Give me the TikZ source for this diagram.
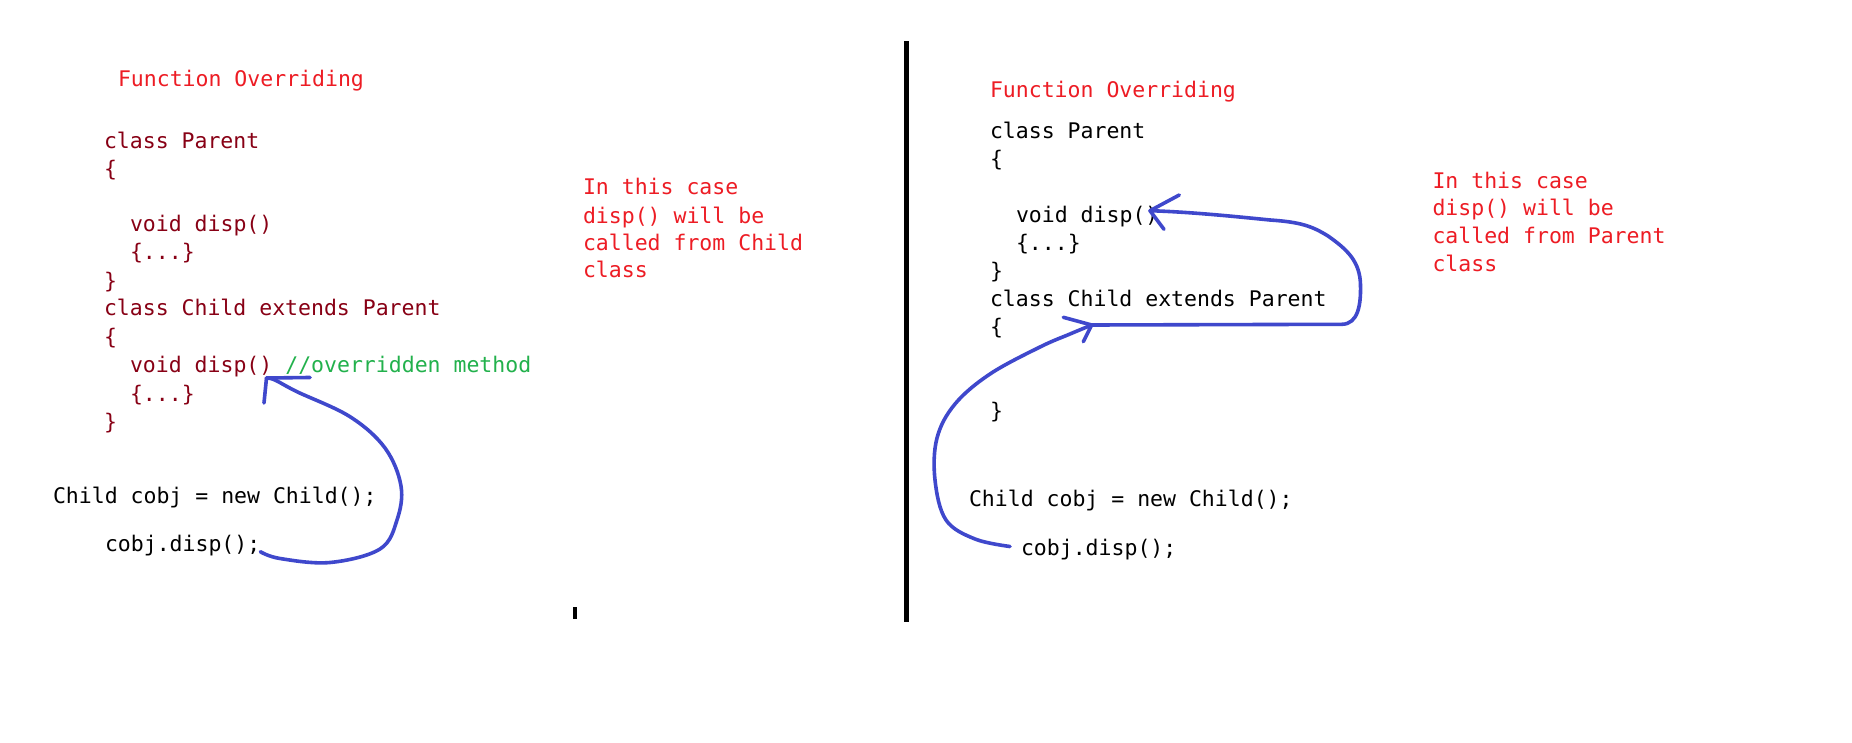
\documentclass[tikz,border=0pt]{standalone}
\usepackage{fontspec}
\newfontfamily\codefont{DejaVu Sans Mono}
\definecolor{pred}{RGB}{237,28,36}
\definecolor{pdarkred}{RGB}{136,0,21}
\definecolor{pgreen}{RGB}{34,177,76}
\definecolor{pblue}{RGB}{63,72,204}
\begin{document}
\begin{tikzpicture}[x=1pt,y=-1pt,
  txt/.style={anchor=base west, inner sep=0pt, outer sep=0pt, font=\codefont\fontsize{21.5}{28}\selectfont},
  codeL/.style={txt, text=pdarkred},
  codeR/.style={txt, text=black},
  note/.style={txt, text=pred},
  stroke/.style={draw=pblue, line width=3.6pt, line cap=round, line join=round},
  bar/.style={fill=black, draw=none}
]
\useasboundingbox[fill=white] (0,0) rectangle (1852,743);

% ---------- left panel ----------
\node[note]  (titleL) at (118,86.7) {Function Overriding};
\node[codeL] (pL1) at (104,148.3) {class Parent};
\node[codeL] (pL2) at (104,176.3) {\{};
\node[codeL] (pL3) at (130,232) {void disp()};
\node[codeL] (pL4) at (130,260) {\{...\}};
\node[codeL] (pL5) at (104,288) {\}};
\node[codeL] (cL1) at (104,316) {class Child extends Parent};
\node[codeL] (cL2) at (104,344) {\{};
\node[codeL] (cL3) at (130,372.5) {void disp() \textcolor{pgreen}{//overridden method}};
\node[codeL] (cL4) at (130,401) {\{...\}};
\node[codeL] (cL5) at (104,429) {\}};
\node[codeR] (objL) at (53,503.3) {Child cobj = new Child();};
\node[codeR] (callL) at (105,551.7) {cobj.disp();};

\node[note] (nL1) at (583,195) {In this case};
\node[note] (nL2) at (583,223.3) {disp() will be};
\node[note] (nL3) at (583,250.7) {called from Child};
\node[note] (nL4) at (583,278) {class};

% ---------- right panel ----------
\node[note]  (titleR) at (990,97.3) {Function Overriding};
\node[codeR] (pR1) at (990,138.3) {class Parent};
\node[codeR] (pR2) at (990,166.3) {\{};
\node[codeR] (pR3) at (1016,222.3) {void disp()};
\node[codeR] (pR4) at (1016,250.3) {\{...\}};
\node[codeR] (pR5) at (990,278.3) {\}};
\node[codeR] (cR1) at (990,306.3) {class Child extends Parent};
\node[codeR] (cR2) at (990,334.3) {\{};
\node[codeR] (cR3) at (990,418.3) {\}};
\node[codeR] (objR) at (969,506.7) {Child cobj = new Child();};
\node[codeR] (callR) at (1021,555) {cobj.disp();};

\node[note] (nR1) at (1432.5,188.3) {In this case};
\node[note] (nR2) at (1432.5,216) {disp() will be};
\node[note] (nR3) at (1432.5,243.3) {called from Parent};
\node[note] (nR4) at (1432.5,271.7) {class};

% ---------- divider and mark ----------
\fill[bar] (904,41) rectangle (909,622);
\fill[bar] (572.5,607) rectangle (576.5,619);

% ---------- blue arrows ----------
\coordinate (tipL) at (266.5,378);
\coordinate (startR) at (1010,546.5);
\coordinate (tipR1) at (1091.7,325);
\coordinate (tipR2) at (1150,210.7);

\draw[stroke] plot[smooth,tension=0.6] coordinates {(callL.base east) (280,558.5) (330,562.5) (380,549) (397,520) (401,486) (385,448) (350,416.7) (297,391.7) (275,380) (tipL)};
\draw[stroke] (tipL) -- (310,377.5);
\draw[stroke] (tipL) .. controls (265,390) .. (264,403);

\draw[stroke] plot[smooth,tension=0.6] coordinates {(startR) (975,539) (946,520) (935,480) (937,438) (955,404) (990,374) (1040,347) (1070,334) (tipR1)};
\draw[stroke] (tipR1) -- (1063.3,317.3);
\draw[stroke] (tipR1) -- (1083.3,341.7);

\draw[stroke] (tipR1) -- (1342,324.3)
  .. controls (1358,324) and (1361,305) .. (1360.5,285)
  .. controls (1360,262) and (1348,250) .. (1328,236)
  .. controls (1312,226) and (1300,222) .. (1270,220)
  .. controls (1230,216) and (1190,212) .. (tipR2);
\draw[stroke] (tipR2) -- (1179.3,195);
\draw[stroke] (tipR2) -- (1164,229.3);
\end{tikzpicture}
\end{document}
